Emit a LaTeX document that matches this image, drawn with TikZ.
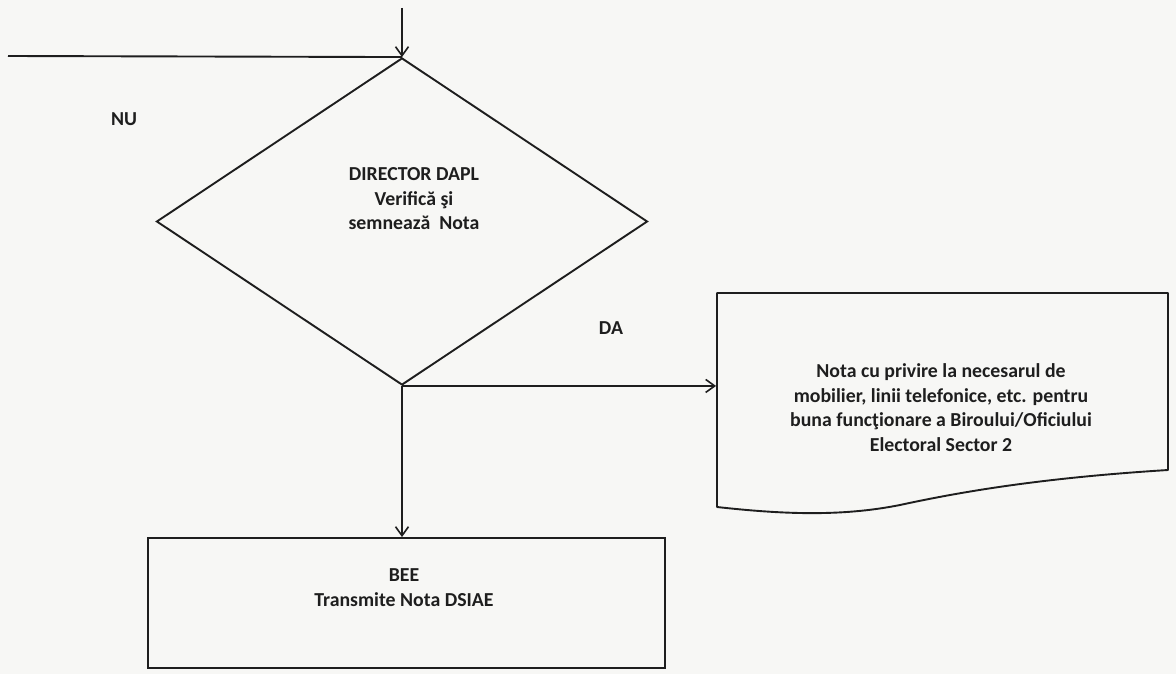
\documentclass[tikz,border=0pt]{standalone}
\usepackage{fontspec}
\setmainfont{Carlito}
\usetikzlibrary{shapes.geometric,arrows.meta,calc}
\definecolor{ink}{HTML}{1E1E1E}
\definecolor{paper}{HTML}{F7F7F5}
\begin{document}
\begin{tikzpicture}[x=1pt,y=-1pt,
  line width=1.9pt, draw=ink,
  lbl/.style={font=\fontsize{19.8}{24.5}\selectfont\bfseries, text=ink, align=center, inner sep=0pt},
  flow/.style={draw=ink, line width=1.9pt, -{Straight Barb[length=9pt,width=13pt,line width=1.6pt]}},
  plain/.style={draw=ink, line width=1.9pt}]
  \fill[paper] (0,0) rectangle (1176,674);
  \useasboundingbox (0,0) rectangle (1176,674);

  % decision
  \node[diamond, draw=ink, line width=1.9pt, minimum width=491pt, minimum height=327pt, inner sep=0pt]
    (dec) at (402,221.5) {};
  \node[lbl] (dectxt) at (414,199) {DIRECTOR DAPL\\Verifică şi\\semnează~~Nota};

  % incoming flow
  \coordinate (in) at (402,8);
  \coordinate (back) at (8,56);
  \draw[flow] (in) -- (dec.north);
  \draw[plain] (back) -- (dec.north);
  \node[lbl] (nu) at (124,119) {NU};
  \node[lbl] (da) at (611,328) {DA};

  % document shape
  \draw[plain, line join=round] (717,293) -- (1168,293) -- (1168,470)
    .. controls (1040,478) and (960,492) .. (900,505)
    .. controls (840,517) and (780,514) .. (717,507) -- cycle;
  \node[minimum width=451pt, minimum height=20pt, inner sep=0pt] (doc) at (942.5,386) {};
  \node[lbl] (doctxt) at (941,407.5) {Nota cu privire la necesarul de\\mobilier, linii telefonice, etc. pentru\\buna funcţionare a Biroului/Oficiului\\Electoral Sector 2};

  % action box
  \node[draw=ink, line width=1.9pt, minimum width=517pt, minimum height=130pt, inner sep=0pt]
    (bee) at (406.5,603) {};
  \node[lbl] (beetxt) at (404,587.5) {BEE\\Transmite Nota DSIAE};

  % outgoing flows
  \draw[flow] (dec.south) -- (dec.south -| doc.west);
  \draw[flow] (dec.south) -- (dec.south |- bee.north);
\end{tikzpicture}
\end{document}
